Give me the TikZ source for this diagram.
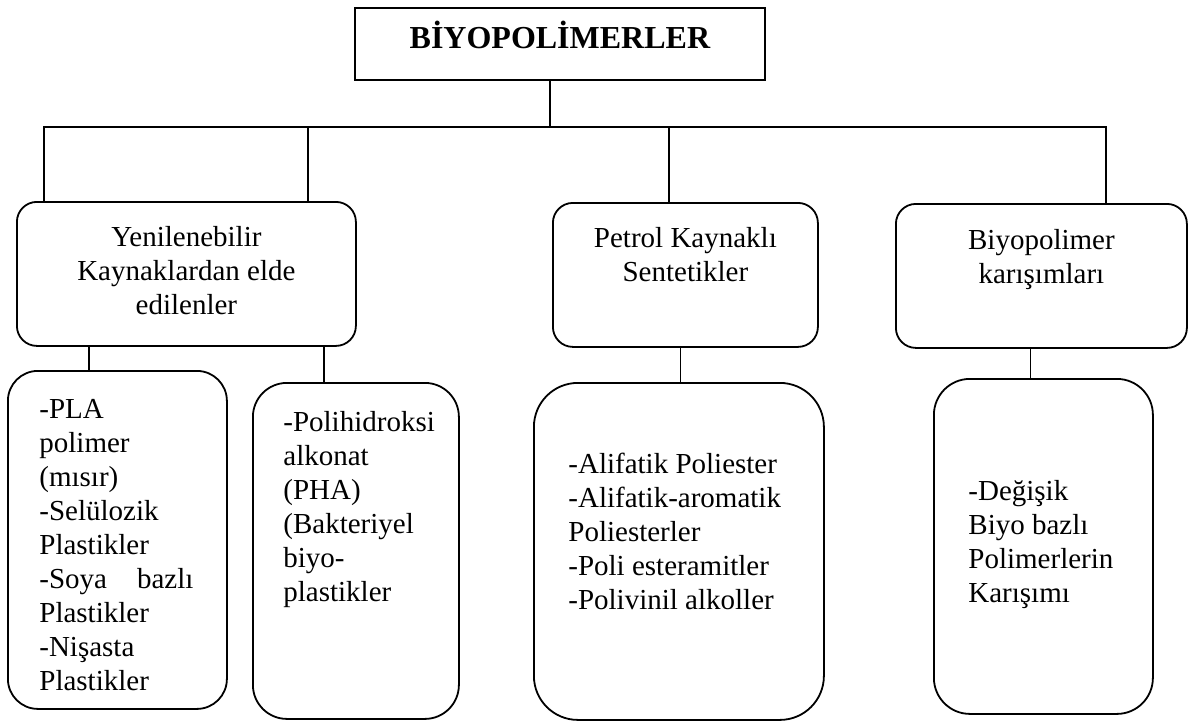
\documentclass[tikz,border=0pt]{standalone}
\usepackage{fontspec}
\setmainfont{Liberation Serif}
\usepackage{tikz}
\usetikzlibrary{positioning}

\begin{document}
\begin{tikzpicture}[x=0.5pt, y=-0.5pt,
        rbox/.style={rectangle, rounded corners=#1, draw, line width=0.9pt,
                     anchor=north west, inner sep=0pt},
        rbox/.default=10pt,
        txt/.style={inner sep=0pt, font=\fontsize{14.5}{17}\selectfont, align=center},
        item/.style={txt, align=left},
        line/.style={line width=0.8pt}
      ]
        \useasboundingbox (0,0) rectangle (1200,720);
        \node[rbox=0pt, minimum width=205pt, minimum height=36pt,
              font=\fontsize{16}{19}\bfseries, text height=12pt, text depth=7pt] (title)
              at (354,7) {BİYOPOLİMERLER};
        % second level
        \node[rbox, minimum width=169.5pt, minimum height=72pt] (yen) at (16,201) {};
        \node[rbox, minimum width=132.5pt, minimum height=72pt] (petrol) at (552,202) {};
        \node[rbox, minimum width=145.5pt, minimum height=72pt] (biyo) at (895,203) {};
        \node[txt, below=12.5pt of yen.north] (yen-t)
              {Yenilenebilir\\Kaynaklardan elde\\edilenler};
        \node[txt, below=12.5pt of petrol.north] (petrol-t)
              {Petrol Kaynaklı\\Sentetikler};
        \node[txt, below=13pt of biyo.north] (biyo-t)
              {Biyopolimer\\karışımları};
        % lists
        \node[rbox=15pt, minimum width=109.5pt, minimum height=169pt] (pla) at (7,370) {};
        \node[rbox=17pt, minimum width=103pt, minimum height=168pt] (pha) at (252,382) {};
        \node[rbox=22pt, minimum width=145pt, minimum height=168.5pt] (sent) at (533,382) {};
        \node[rbox=18pt, minimum width=109.5pt, minimum height=167.5pt] (kar) at (933,378) {};
        \node[item, below right=14.5pt and 16pt of pla.north west] (pla-t)
              {-PLA\\polimer\\(mısır)\\-Selülozik\\Plastikler\\
               \makebox[77pt][s]{-Soya bazlı}\\Plastikler\\-Nişasta\\Plastikler};
        \node[item, below right=14.5pt and 15.5pt of pha.north west] (pha-t)
              {-Polihidroksi\\alkonat\\(PHA)\\(Bakteriyel\\biyo-\\plastikler};
        \node[item, below right=35.5pt and 17.5pt of sent.north west] (sent-t)
              {-Alifatik Poliester\\-Alifatik-aromatik\\Poliesterler\\
               -Poli esteramitler\\-Polivinil alkoller};
        \node[item, below right=51pt and 17.5pt of kar.north west] (kar-t)
              {-Değişik\\Biyo bazlı\\Polimerlerin\\Karışımı};
        % connectors
        \coordinate (tapT) at (550,127);
        \coordinate (busL) at (44,127);
        \coordinate (busR) at (1106,127);
        \coordinate (tapY) at (308,127);
        \coordinate (tapP) at (669,127);
        \coordinate (tapA) at ([xshift=36.5pt]yen.south west);
        \coordinate (tapB) at ([xshift=-16.5pt]yen.south east);
        \coordinate (tapC) at ([xshift=-2.5pt]petrol.south);
        \coordinate (tapD) at ([xshift=-5.5pt]biyo.south);
        \draw[line] (tapT |- title.south) -- (tapT);
        \draw[line] (busL |- yen.north) -- (busL) -- (busR) -- (busR |- biyo.north);
        \draw[line] (tapY) -- (tapY |- yen.north);
        \draw[line] (tapP) -- (tapP |- petrol.north);
        \draw[line] (tapA) -- (tapA |- pla.north);
        \draw[line] (tapB) -- (tapB |- pha.north);
        \draw[line] (tapC) -- (tapC |- sent.north);
        \draw[line] (tapD) -- (tapD |- kar.north);
      \end{tikzpicture}
\end{document}
